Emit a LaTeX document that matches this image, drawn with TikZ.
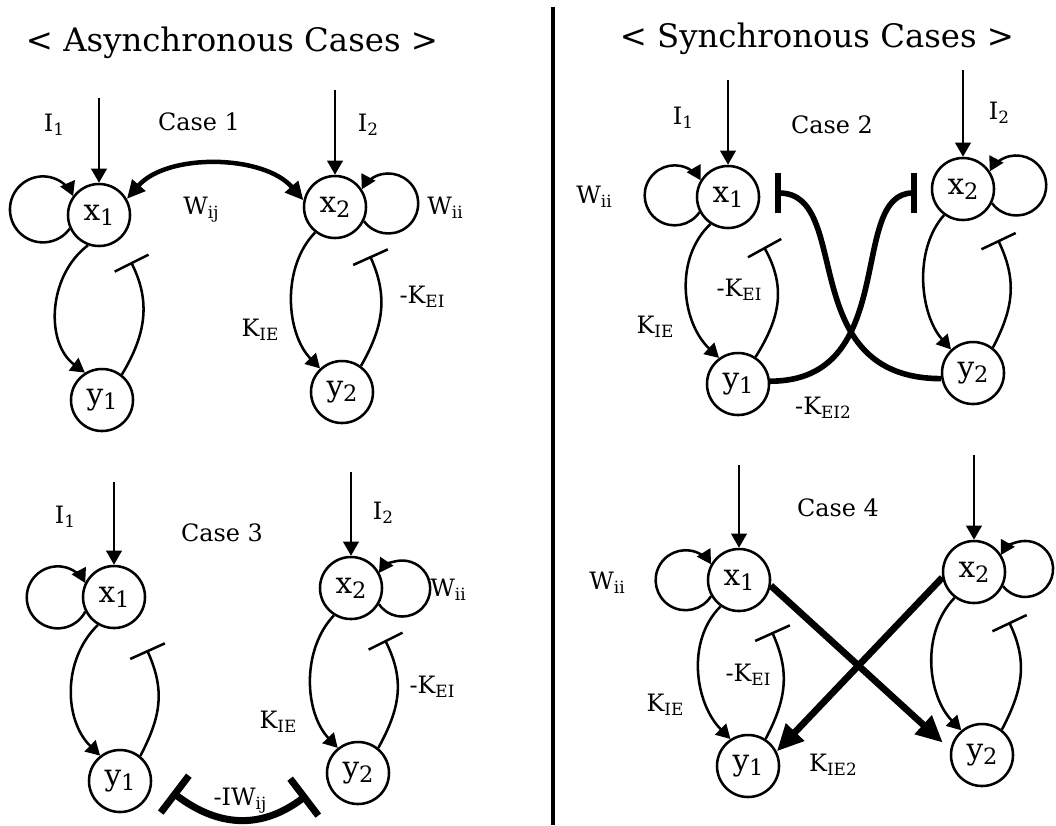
\documentclass[tikz,border=0pt]{standalone}
\usepackage{fontspec}
\setmainfont{DejaVu Serif}
\usetikzlibrary{arrows.meta,calc}
\newcommand\lsub[1]{\raisebox{-3pt}{\fontsize{12}{12}\selectfont #1}}
\newcommand\nsub[1]{\raisebox{-3.5pt}{\fontsize{16}{16}\selectfont #1}}
\tikzset{
  nd/.style={circle,draw,line width=1.8pt,minimum size=1.55cm,inner sep=0pt,font=\fontsize{21}{25}\selectfont},
  lab/.style={font=\fontsize{17}{21}\selectfont,inner sep=0pt},
  ttl/.style={font=\fontsize{23}{28}\selectfont,anchor=base,inner sep=0pt},
  thinln/.style={line width=1.8pt},
  act/.style={thinln,-{Triangle[length=10pt,width=11pt]}},
  inh/.style={thinln,-{Bar[width=27pt]}},
  wij/.style={line width=3.2pt,{Triangle[length=13pt,width=12pt]}-{Triangle[length=13pt,width=12pt]}},
  iwij/.style={line width=5pt,{Bar[width=33pt]}-{Bar[width=33pt]}},
  keitwo/.style={line width=4pt,-{Bar[width=29pt]}},
  kietwo/.style={line width=4.8pt,-{Triangle[length=19pt,width=17pt]}},
  divider/.style={line width=2.8pt}
}
\begin{document}
\begin{tikzpicture}[x=0.025cm,y=-0.025cm]
\useasboundingbox (0,0) rectangle (1056,825);

% titles and divider
\node[ttl] (t1) at (232,51) {< Asynchronous Cases >};
\node[ttl] (t2) at (817,47) {< Synchronous Cases >};
\draw[divider] (553,7) -- (553,825);

% ---------------- Case 1 ----------------
\node[nd] (ax1) at (99,215) {x\nsub{1}};
\node[nd] (ax2) at (335,207) {x\nsub{2}};
\node[nd] (ay1) at (102,400) {y\nsub{1}};
\node[nd] (ay2) at (342,392) {y\nsub{2}};
\coordinate (ai1) at (99,98);
\coordinate (ai2) at (335,90);
\coordinate (at1) at (131,262);
\coordinate (at2) at (370,256);
\draw[act] (ai1) -- (ax1);
\draw[act] (ai2) -- (ax2);
\draw[act] (ax1.205.8) arc[start angle=35.7, end angle=336.3, radius=33];
\draw[act] (ax2.-26.94) arc[start angle=143.9, end angle=-151.9, radius=30];
\draw[act] (ax1.250) .. controls +(-40,30) and +(-40,-30) .. (ay1.122);
\draw[inh] (ay1.52) .. controls +(24,-40) and +(20,40) .. (at1);
\draw[act] (ax2.232) .. controls +(-34,35) and +(-34,-35) .. (ay2.133);
\draw[inh] (ay2.54) .. controls +(23,-40) and +(18,40) .. (at2);
\draw[wij] (ax1.30) .. controls +(40,-46) and +(-40,-46) .. (ax2.168);
\node[lab] (al1) at (54,125) {I\lsub{1}};
\node[lab] (al2) at (199,122) {Case 1};
\node[lab] (al3) at (368,125) {I\lsub{2}};
\node[lab] (al4) at (201,210) {W\lsub{ij}};
\node[lab] (al5) at (445,208) {W\lsub{ii}};
\node[lab] (al6) at (260,330) {K\lsub{IE}};
\node[lab] (al7) at (422,297) {-K\lsub{EI}};

% ---------------- Case 3 ----------------
\node[nd] (cx1) at (114,597) {x\nsub{1}};
\node[nd] (cx2) at (351,588) {x\nsub{2}};
\node[nd] (cy1) at (120,781) {y\nsub{1}};
\node[nd] (cy2) at (358,773) {y\nsub{2}};
\coordinate (ci1) at (114,482);
\coordinate (ci2) at (351,472);
\coordinate (ct1) at (147,650);
\coordinate (ct2) at (385,640);
\coordinate (cb1) at (172,792);
\coordinate (cb2) at (307,795);
\draw[act] (ci1) -- (cx1);
\draw[act] (ci2) -- (cx2);
\draw[act] (cx1.207.5) arc[start angle=27.5, end angle=332.5, radius=31];
\draw[act] (cx2.-30.28) arc[start angle=146.1, end angle=-146.1, radius=28];
\draw[act] (cx1.240) .. controls +(-36,35) and +(-36,-35) .. (cy1.128);
\draw[inh] (cy1.51) .. controls +(21,-40) and +(18,40) .. (ct1);
\draw[act] (cx2.238) .. controls +(-33,35) and +(-33,-35) .. (cy2.129);
\draw[inh] (cy2.51) .. controls +(22,-40) and +(20,40) .. (ct2);
\draw[iwij] (cb1) .. controls +(46,35) and +(-46,35) .. (cb2);
\node[lab] (cl1) at (65,517) {I\lsub{1}};
\node[lab] (cl2) at (222,533) {Case 3};
\node[lab] (cl3) at (383,513) {I\lsub{2}};
\node[lab] (cl4) at (448,590) {W\lsub{ii}};
\node[lab] (cl5) at (278,722) {K\lsub{IE}};
\node[lab] (cl6) at (432,687) {-K\lsub{EI}};
\node[lab] (cl7) at (240,801) {-IW\lsub{ij}};

% ---------------- Case 2 ----------------
\node[nd] (bx1) at (728,197) {x\nsub{1}};
\node[nd] (bx2) at (963,189) {x\nsub{2}};
\node[nd] (by1) at (738,384) {y\nsub{1}};
\node[nd] (by2) at (973,373) {y\nsub{2}};
\coordinate (bi1) at (728,80);
\coordinate (bi2) at (963,70);
\coordinate (bt1) at (764,247);
\coordinate (bt2) at (998,240);
\coordinate (bb1) at (775,193);
\coordinate (bb2) at (917,193);
\draw[act] (bi1) -- (bx1);
\draw[act] (bi2) -- (bx2);
\draw[act] (bx1.208.94) arc[start angle=34.1, end angle=329.9, radius=30];
\draw[act] (bx2.-26.94) arc[start angle=143.9, end angle=-151.9, radius=30];
\draw[act] (bx1.237) .. controls +(-37,35) and +(-37,-35) .. (by1.126);
\draw[inh] (by1.57) .. controls +(25,-40) and +(22,40) .. (bt1);
\draw[act] (bx2.234) .. controls +(-31,35) and +(-31,-35) .. (by2.133);
\draw[inh] (by2.52) .. controls +(21,-40) and +(19,40) .. (bt2);
\draw[keitwo] (by1.5) .. controls +(131,0) and +(-70,0) .. (bb2);
\draw[keitwo] (by2.190) .. controls +(-148,0) and +(79,0) .. (bb1);
\node[lab] (bl1) at (683,118) {I\lsub{1}};
\node[lab] (bl2) at (832,125) {Case 2};
\node[lab] (bl3) at (999,113) {I\lsub{2}};
\node[lab] (bl4) at (594,197) {W\lsub{ii}};
\node[lab] (bl5) at (655,327) {K\lsub{IE}};
\node[lab] (bl6) at (739,290) {-K\lsub{EI}};
\node[lab] (bl7) at (823,408) {-K\lsub{EI2}};

% ---------------- Case 4 ----------------
\node[nd] (dx1) at (739,580) {x\nsub{1}};
\node[nd] (dx2) at (974,572) {x\nsub{2}};
\node[nd] (dy1) at (748,766) {y\nsub{1}};
\node[nd] (dy2) at (982,755) {y\nsub{2}};
\coordinate (di1) at (739,465);
\coordinate (di2) at (974,455);
\coordinate (dt1) at (772,632);
\coordinate (dt2) at (1009,622);
\draw[act] (di1) -- (dx1);
\draw[act] (di2) -- (dx2);
\draw[act] (dx1.210.94) arc[start angle=32.1, end angle=327.9, radius=30];
\draw[act] (dx2.-26.28) arc[start angle=142.1, end angle=-150.1, radius=28];
\draw[act] (dx1.235) .. controls +(-35,35) and +(-35,-35) .. (dy1.123);
\draw[inh] (dy1.57) .. controls +(21,-40) and +(18,40) .. (dt1);
\draw[act] (dx2.233) .. controls +(-34,35) and +(-34,-35) .. (dy2.130);
\draw[inh] (dy2.52) .. controls +(21,-40) and +(19,40) .. (dt2);
\draw[kietwo,shorten >=0.25cm] (dx1.-10) -- (dy2.170);
\draw[kietwo] (dx2.190) -- (dy1.27);
\node[lab] (dl1) at (838,508) {Case 4};
\node[lab] (dl2) at (607,583) {W\lsub{ii}};
\node[lab] (dl3) at (665,705) {K\lsub{IE}};
\node[lab] (dl4) at (748,675) {-K\lsub{EI}};
\node[lab] (dl5) at (833,765) {K\lsub{IE2}};
\end{tikzpicture}
\end{document}
